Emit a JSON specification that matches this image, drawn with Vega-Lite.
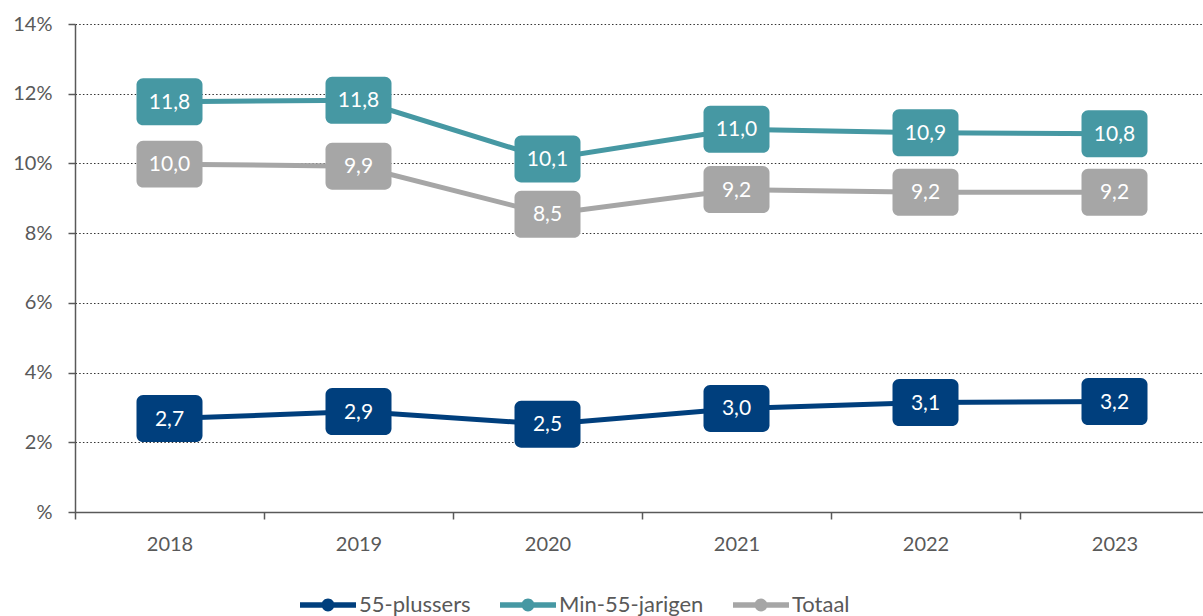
{
  "$schema": "https://vega.github.io/schema/vega-lite/v6.json",
  "width": 1128,
  "height": 488,
  "autosize": {"type": "none"},
  "padding": {"left": 75, "top": 24, "right": 0, "bottom": 104},
  "background": "white",
  "config": {"view": {"stroke": null}, "font": "Lato"},
  "data": {
    "values": [
      {"jaar": "2018", "groep": "55-plussers", "waarde": 2.68, "label": "2,7"},
      {"jaar": "2019", "groep": "55-plussers", "waarde": 2.88, "label": "2,9"},
      {"jaar": "2020", "groep": "55-plussers", "waarde": 2.52, "label": "2,5"},
      {"jaar": "2021", "groep": "55-plussers", "waarde": 2.97, "label": "3,0"},
      {"jaar": "2022", "groep": "55-plussers", "waarde": 3.14, "label": "3,1"},
      {"jaar": "2023", "groep": "55-plussers", "waarde": 3.17, "label": "3,2"},
      {"jaar": "2018", "groep": "Min-55-jarigen", "waarde": 11.77, "label": "11,8"},
      {"jaar": "2019", "groep": "Min-55-jarigen", "waarde": 11.81, "label": "11,8"},
      {"jaar": "2020", "groep": "Min-55-jarigen", "waarde": 10.13, "label": "10,1"},
      {"jaar": "2021", "groep": "Min-55-jarigen", "waarde": 10.98, "label": "11,0"},
      {"jaar": "2022", "groep": "Min-55-jarigen", "waarde": 10.88, "label": "10,9"},
      {"jaar": "2023", "groep": "Min-55-jarigen", "waarde": 10.85, "label": "10,8"},
      {"jaar": "2018", "groep": "Totaal", "waarde": 9.98, "label": "10,0"},
      {"jaar": "2019", "groep": "Totaal", "waarde": 9.92, "label": "9,9"},
      {"jaar": "2020", "groep": "Totaal", "waarde": 8.54, "label": "8,5"},
      {"jaar": "2021", "groep": "Totaal", "waarde": 9.25, "label": "9,2"},
      {"jaar": "2022", "groep": "Totaal", "waarde": 9.17, "label": "9,2"},
      {"jaar": "2023", "groep": "Totaal", "waarde": 9.17, "label": "9,2"}
    ]
  },
  "encoding": {
    "x": {
      "field": "jaar",
      "type": "ordinal",
      "scale": {"type": "band", "paddingInner": 0, "paddingOuter": 0, "range": [0, 1134]},
      "axis": {
        "title": null,
        "labelAngle": 0,
        "labelFontSize": 20,
        "labelColor": "#595959",
        "labelPadding": 15,
        "tickBand": "extent",
        "tickSize": 7,
        "tickColor": "#595959",
        "tickWidth": 1.5,
        "domainColor": "#595959",
        "domainWidth": 1.5,
        "grid": false
      }
    },
    "y": {
      "field": "waarde",
      "type": "quantitative",
      "scale": {"domain": [0, 14], "nice": false, "zero": true},
      "axis": {
        "title": null,
        "values": [0, 2, 4, 6, 8, 10, 12, 14],
        "labelExpr": "datum.value == 0 ? '%' : datum.value + '%'",
        "labelFontSize": 20,
        "labelColor": "#595959",
        "labelPadding": 16,
        "tickSize": 7,
        "tickColor": "#595959",
        "tickWidth": 1.5,
        "domainColor": "#595959",
        "domainWidth": 1.5,
        "grid": true,
        "gridColor": "#333333",
        "gridDash": [1.5, 2.2],
        "gridWidth": 1.2
      }
    },
    "color": {
      "field": "groep",
      "type": "nominal",
      "scale": {"domain": ["55-plussers", "Min-55-jarigen", "Totaal"], "range": ["#003F7D", "#4698A3", "#A6A6A6"]},
      "legend": {
        "title": null,
        "orient": "none",
        "direction": "horizontal",
        "legendX": 225,
        "legendY": 553,
        "labelFontSize": 22,
        "labelColor": "#595959",
        "labelOffset": 3,
        "columnPadding": 29,
        "symbolSize": 3136,
        "symbolType": "M-1,-0.1 L1,-0.1 L1,0.1 L-1,0.1 Z M-0.23,0 A0.23,0.23 0 1 1 0.23,0 A0.23,0.23 0 1 1 -0.23,0 Z",
        "symbolStrokeWidth": 0,
        "symbolOpacity": 1
      }
    }
  },
  "layer": [
    {
      "mark": {"type": "line", "strokeWidth": 5}
    },
    {
      "mark": {
        "type": "point",
        "filled": true,
        "opacity": 1,
        "size": 4356,
        "shape": "M-0.8,-0.712 H0.8 A0.2,0.2 0 0 1 1,-0.512 V0.512 A0.2,0.2 0 0 1 0.8,0.712 H-0.8 A0.2,0.2 0 0 1 -1,0.512 V-0.512 A0.2,0.2 0 0 1 -0.8,-0.712 Z"
      }
    },
    {
      "mark": {"type": "text", "fontSize": 21, "baseline": "middle", "align": "center", "dy": 1},
      "encoding": {
        "text": {"field": "label"},
        "color": {"value": "white"}
      }
    }
  ]
}
